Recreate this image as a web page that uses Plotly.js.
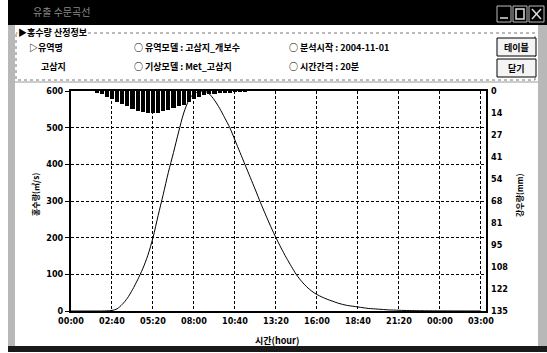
<!DOCTYPE html>
<html><head><meta charset="utf-8">
<script src="https://cdn.plot.ly/plotly-3.0.1.min.js"></script>
<style>html,body{margin:0;padding:0;background:#fff;}#chart{width:547px;height:353px;}</style>
</head><body><div id="chart"></div>
<script>
// ---- data ----
var timeMin = [0,20,40,60,80,100,120,140,160,180,200,220,240,260,280,300,320,340,360,380,400,420,440,460,480,500,520,540,560,580,600,620,640,660,680,700,720,740,760,780,800,820,840,860,880,900,920,940,960,980,1000,1020,1040,1060,1080,1100,1120,1140,1160,1180,1200,1220,1240,1260,1280,1300,1320,1340,1360,1380,1400,1420,1440,1460,1480,1500,1520,1540,1560,1580,1600];
var discharge = [0,0,0,0,0,0,0,0.5,1.5,6,18,35,58,85,115,152,200,260,318,378,432,488,540,575,593,598,600,592,575,553,527,500,466,432,398,364,330,295,262,230,200,172,146,122,99,81,66,54,45,38,32,27,22,18,15,13,11,9,7,6,5,4,3,2.5,2,1.5,1.2,1,0.8,0.6,0.5,0.4,0.3,0.3,0.2,0.2,0.2,0.1,0.1,0.1,0.1];
var rainTime = [100,120,140,160,180,200,220,240,260,280,300,320,340,360,380,400,420,440,460,480,500,520,540,560,580,600,620,640,660,680,700];
var rainfall = [1.0,2.0,3.5,5.0,6.5,8.0,9.5,11.0,12.0,12.8,13.5,13.8,13.5,12.5,11.5,10.5,9.5,8.5,7.0,5.0,3.5,2.5,2.0,1.8,1.5,1.2,1.0,0.8,0.6,0.5,0.3];
var xTickVals = [0,160,320,480,640,800,960,1120,1280,1440,1600];
var xTickText = ["00:00","02:40","05:20","08:00","10:40","13:20","16:00","18:40","21:20","00:00","03:00"];
var rainTickVals = [0,13.5,27,40.5,54,67.5,81,94.5,108,121.5,135];
var rainTickText = ["0","14","27","41","54","68","81","95","108","122","135"];

// ---- pixel helpers (plot area: x 71..486, y 91..311) ----
var L=71,R=486,T=91,B=311,W=547,H=353;
function X(px){return (px-L)/(R-L);}
function Y(py){return (B-py)/(B-T);}
function rect(x0,y0,x1,y1,fill,lc,lw,dash){
  return {type:'rect',xref:'paper',yref:'paper',x0:X(x0),x1:X(x1),y0:Y(y0),y1:Y(y1),
    fillcolor:fill||'rgba(0,0,0,0)',line:{color:lc||'rgba(0,0,0,0)',width:lw||0,dash:dash||'solid'},layer:'below'};
}
function line(x0,y0,x1,y1,c,w,dash){
  return {type:'line',xref:'paper',yref:'paper',x0:X(x0),x1:X(x1),y0:Y(y0),y1:Y(y1),line:{color:c,width:w,dash:dash||'solid'},layer:'below'};
}
var KF = 'Noto Sans CJK KR, sans-serif';
var NF = 'Liberation Sans Narrow, DejaVu Sans Condensed, Liberation Sans, sans-serif';
function txt(s,px,py,xa,opts){
  opts=opts||{};
  return {text:s,xref:'paper',yref:'paper',x:X(px),y:Y(py),xanchor:xa||'left',yanchor:'middle',showarrow:false,
    font:{family:opts.family||KF,size:opts.size||9,color:opts.color||'#000',weight:opts.weight||'bold'},
    textangle:opts.angle||0,bgcolor:opts.bg||'rgba(0,0,0,0)',borderpad:0};
}

var shapes = [
  rect(8,0,547,25,'#000'),
  rect(8,25,15,352,'#b8b8b8'),
  rect(538,25,547,352,'#b8b8b8'),
  rect(8,346,547,352,'#1a1a1a'),
  rect(16,33,535,80,null,'#777',1,'dot'),
  rect(497,38,536,56,'#f4f4f4','#000',1),
  rect(497,59,536,77,'#f4f4f4','#000',1),
  rect(497,6,511,22,null,'#bbb',1),
  rect(513,6,527,22,null,'#bbb',1),
  rect(529,6,544,22,null,'#bbb',1),
  line(500,18,508,18,'#ddd',1.5),
  rect(516,9,524,19,null,'#ddd',1.5),
  line(532,9,541,19,'#ddd',1.5),
  line(532,19,541,9,'#ddd',1.5),
  line(15,82,538,82,'#999',1)
];

var annotations = [
  txt('유출 수문곡선',32,12,'left',{color:'#888',size:10,weight:'normal'}),
  txt('▶홍수량 산정정보',17,33,'left',{bg:'#fff'}),
  txt('▷유역명',28,47),
  txt('고삼지',40,66),
  txt('○ 유역모델 : 고삼지_개보수',133,47),
  txt('○ 기상모델 : Met_고삼지',133,66),
  txt('○ 분석시작 : 2004-11-01',288,47),
  txt('○ 시간간격 : 20분',288,66),
  txt('테이블',516,47,'center'),
  txt('닫기',516,68,'center'),
  txt('홍수량(㎥/s)',35,195,'center',{angle:-90,size:8}),
  txt('강우량(mm)',519,195,'center',{angle:-90,size:8}),
  txt('시간(hour)',277,340,'center')
];

var traces = [
  {type:'bar',x:rainTime,y:rainfall,yaxis:'y',xaxis:'x',marker:{color:'#000',line:{width:0}},width:16,hoverinfo:'skip'},
  {type:'scatter',mode:'lines',x:timeMin,y:discharge,yaxis:'y2',xaxis:'x',line:{color:'#000',width:1,shape:'spline',smoothing:0.8},hoverinfo:'skip',cliponaxis:true}
];

var layout = {
  width:W,height:H,margin:{l:L,r:W-R,t:T,b:H-B,pad:0},
  paper_bgcolor:'#fff',plot_bgcolor:'#fff',showlegend:false,bargap:0,
  xaxis:{range:[0,1620],tickvals:xTickVals,ticktext:xTickText,showgrid:true,gridcolor:'#000',gridwidth:1,griddash:'3px,2px',
    showline:true,linecolor:'#000',linewidth:2,mirror:true,ticks:'',zeroline:false,
    tickfont:{family:NF,size:9,color:'#000',weight:'bold'}},
  yaxis:{range:[135,0],side:'right',tickvals:rainTickVals,ticktext:rainTickText,showgrid:false,zeroline:false,
    showline:false,ticks:'',ticklabelstandoff:4,tickfont:{family:NF,size:9,color:'#000',weight:'bold'}},
  yaxis2:{range:[0,600],overlaying:'y',side:'left',dtick:100,showgrid:true,gridcolor:'#000',gridwidth:1,griddash:'3px,2px',
    showline:true,linecolor:'#000',linewidth:2,mirror:true,ticks:'outside',ticklen:4,tickcolor:'#000',zeroline:false,
    tickfont:{family:NF,size:9,color:'#000',weight:'bold'}},
  shapes:shapes,annotations:annotations
};
Plotly.newPlot('chart',traces,layout,{staticPlot:true,displayModeBar:false});
</script></body></html>
